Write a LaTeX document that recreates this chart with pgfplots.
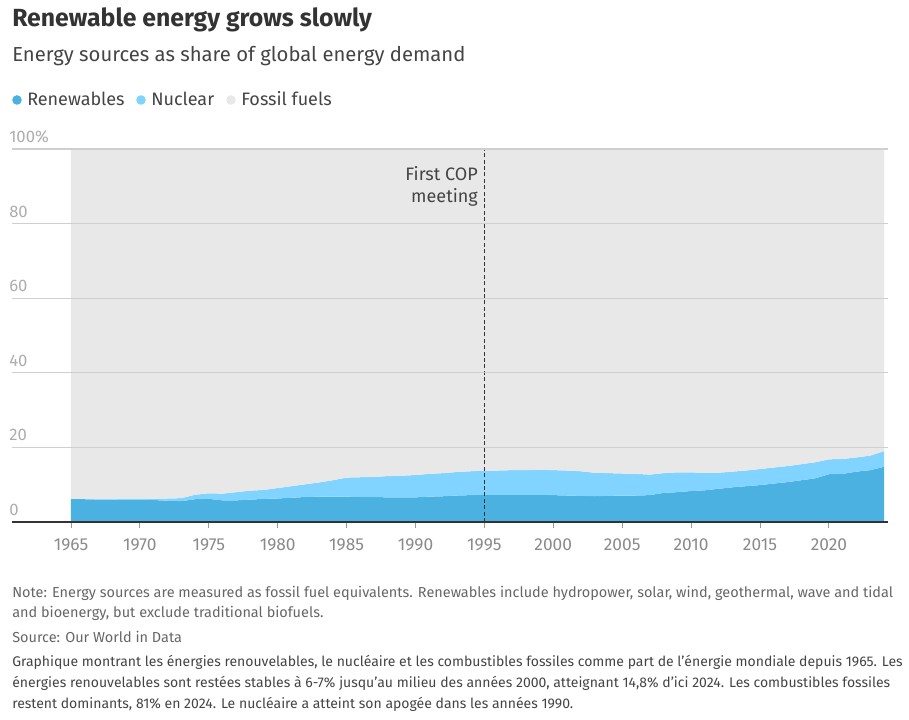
\documentclass[border=0pt]{standalone}
\usepackage{pgfplots}
\usepackage{pgfplotstable}
\pgfplotsset{compat=1.18}
\usepackage{fontspec}
\setmainfont{Fira Sans}

\definecolor{renew}{HTML}{4BB1E1}
\definecolor{nuclear}{HTML}{80D4FF}
\definecolor{fossil}{HTML}{E8E8E8}
\definecolor{gridc}{HTML}{CFCFCF}
\definecolor{axisc}{HTML}{333333}
\definecolor{tickc}{HTML}{999999}
\definecolor{ylab}{HTML}{ADADAD}
\definecolor{xlab}{HTML}{8A8A8A}
\definecolor{titlec}{HTML}{333333}
\definecolor{subc}{HTML}{444444}
\definecolor{notec}{HTML}{666666}

% share of global energy demand, percent
\pgfplotstableread{
year renew nuclear fossil
1965 6.1 0.1 93.8
1966 6.1 0.1 93.8
1967 6.0 0.1 93.9
1968 6.0 0.1 93.9
1969 5.9 0.2 93.9
1970 5.9 0.2 93.9
1971 5.9 0.3 93.8
1972 5.7 0.6 93.7
1973 5.6 0.8 93.6
1974 6.1 1.2 92.7
1975 6.2 1.5 92.3
1976 5.8 1.8 92.4
1977 5.8 2.2 92.0
1978 6.0 2.4 91.6
1979 6.2 2.4 91.4
1980 6.3 2.8 90.9
1981 6.5 3.1 90.4
1982 6.7 3.4 89.9
1983 6.8 3.8 89.4
1984 6.8 4.4 88.8
1985 6.8 5.1 88.1
1986 6.7 5.3 88.0
1987 6.7 5.4 87.9
1988 6.6 5.7 87.7
1989 6.6 5.8 87.6
1990 6.6 6.0 87.4
1991 6.8 6.1 87.1
1992 6.9 6.2 86.9
1993 7.1 6.3 86.6
1994 7.2 6.4 86.4
1995 7.3 6.5 86.2
1996 7.3 6.5 86.2
1997 7.3 6.6 86.1
1998 7.3 6.6 86.1
1999 7.3 6.7 86.0
2000 7.2 6.7 86.1
2001 7.1 6.7 86.2
2002 7.0 6.6 86.4
2003 6.9 6.3 86.8
2004 7.0 6.1 86.9
2005 7.1 5.9 87.0
2006 7.1 5.8 87.1
2007 7.2 5.5 87.3
2008 7.8 5.3 86.9
2009 8.0 5.3 86.7
2010 8.3 5.0 86.7
2011 8.5 4.7 86.8
2012 8.9 4.3 86.8
2013 9.3 4.2 86.5
2014 9.6 4.2 86.2
2015 9.9 4.3 85.8
2016 10.3 4.3 85.4
2017 10.7 4.3 85.0
2018 11.2 4.3 84.5
2019 11.7 4.3 84.0
2020 12.8 4.0 83.2
2021 12.9 4.0 83.1
2022 13.5 3.8 82.7
2023 13.9 3.9 82.2
2024 14.8 4.2 81.0
}\energy

\begin{document}
\begin{tikzpicture}
\path[use as bounding box] (0,0) rectangle (681.75pt,540pt);

% title block
\node[anchor=base west, inner sep=0, text=titlec, font=\fontsize{18.6}{22}\selectfont\bfseries] at (9pt,519.75pt) {Renewable energy grows slowly};
\node[anchor=base west, inner sep=0, text=subc, font=\fontsize{15.2}{18}\selectfont] at (9pt,493.5pt) {Energy sources as share of global energy demand};

% legend
\fill[renew] (12.75pt,465pt) circle (3.6pt);
\node[anchor=base west, inner sep=0, text=subc, font=\fontsize{13.5}{16}\selectfont] at (20.25pt,460.5pt) {Renewables};
\fill[nuclear] (105.75pt,465pt) circle (3.6pt);
\node[anchor=base west, inner sep=0, text=subc, font=\fontsize{13.5}{16}\selectfont] at (113.25pt,460.5pt) {Nuclear};
\fill[fossil] (173.25pt,465pt) circle (3.6pt);
\node[anchor=base west, inner sep=0, text=subc, font=\fontsize{13.5}{16}\selectfont] at (180.75pt,460.5pt) {Fossil fuels};

\begin{axis}[
    at={(9pt,148.5pt)}, anchor=south west,
    scale only axis, width=657pt, height=279.75pt,
    xmin=1960.72, xmax=2024.29, ymin=0, ymax=100,
    axis on top,
    axis x line=bottom, axis y line=left,
    x axis line style={-, draw=axisc, line width=1.1pt},
    y axis line style={draw=none},
    xtick={1965,1970,...,2020},
    xtick align=outside,
    major tick length=4.5pt,
    xtick style={draw=tickc, line width=0.6pt},
    ytick={0,20,...,100},
    yticklabels={0,20,40,60,80,100\%},
    ytick style={draw=none},
    ymajorgrids,
    grid style={draw=gridc, line width=0.8pt},
    /pgf/number format/1000 sep={},
    /pgf/number format/assume math mode=true,
    xticklabel style={font=\fontsize{13}{15}\selectfont, text=xlab, anchor=base, yshift=-16.75pt},
    yticklabel style={font=\fontsize{12.5}{14}\selectfont, text=ylab, anchor=base west, inner sep=0pt, yshift=4.9pt},
]
\addplot[fill=renew, draw=none, stack plots=y] table[x=year, y=renew] {\energy} \closedcycle;
\addplot[fill=nuclear, draw=none, stack plots=y] table[x=year, y=nuclear] {\energy} \closedcycle;
\addplot[fill=fossil, draw=none, stack plots=y] table[x=year, y=fossil] {\energy} \closedcycle;
% first COP meeting, 1995
\addplot[axisc, line width=1pt, dash pattern=on 3pt off 1.8pt, stack plots=false] coordinates {(1995,0) (1995,100)};
\end{axis}

% annotation
\node[anchor=north east, inner sep=0, align=right, text=subc, font=\fontsize{13.5}{16.5}\selectfont] at (358.5pt,415pt) {First COP\\meeting};

% notes
\begin{scope}[every node/.style={anchor=base west, inner sep=0, font=\fontsize{10.85}{15}\selectfont}]
\node[text=notec] at (9pt,91.5pt) {Note: Energy sources are measured as fossil fuel equivalents. Renewables include hydropower, solar, wind, geothermal, wave and tidal};
\node[text=notec] at (9pt,76.5pt) {and bioenergy, but exclude traditional biofuels.};
\node[text=notec] at (9pt,57.75pt) {Source: Our World in Data};
\end{scope}
\begin{scope}[every node/.style={anchor=base west, inner sep=0, font=\fontsize{10.5}{15}\selectfont}]
\node[text=subc] at (9pt,39.75pt) {Graphique montrant les énergies renouvelables, le nucléaire et les combustibles fossiles comme part de l'énergie mondiale depuis 1965. Les};
\node[text=subc] at (9pt,24pt) {énergies renouvelables sont restées stables à 6-7\% jusqu'au milieu des années 2000, atteignant 14,8\% d'ici 2024. Les combustibles fossiles};
\node[text=subc] at (9pt,8.25pt) {restent dominants, 81\% en 2024. Le nucléaire a atteint son apogée dans les années 1990.};
\end{scope}
\end{tikzpicture}
\end{document}
